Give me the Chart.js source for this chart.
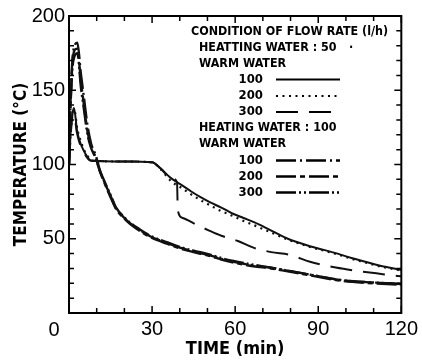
<!DOCTYPE html>
<html>
<head>
<meta charset="utf-8">
<script src="https://cdn.jsdelivr.net/npm/chart.js@4.4.0/dist/chart.umd.min.js"></script>
<style>
  html, body { margin: 0; padding: 0; background: #fff; }
  #chart { display: block; }
</style>
</head>
<body>
<canvas id="chart" width="422" height="362"></canvas>
<script>
// Temperature vs time (min, °C)

// heating water 50 l/h
const hw50ww100Time = [0, 0.7, 1.8, 2.9, 4, 5.4, 6.5, 7.5, 8.5, 20, 30, 33, 36.7, 40, 44, 47.5, 51, 55, 59, 63, 67, 72, 79, 87, 92, 97, 102, 107, 112, 116, 120];
const hw50ww100Temp = [100, 125, 138, 123, 115, 109, 105.5, 103, 102.5, 102, 101.5, 97.5, 91, 87, 82, 78, 74.5, 71, 67, 64, 61, 56.5, 50, 45, 42.5, 40, 37, 34.5, 32, 30.5, 29];

const hw50ww200Time = [0, 0.7, 1.9, 3, 4.2, 5.5, 6.6, 7.6, 8.6, 20, 30, 33, 37, 40, 44, 47.5, 51, 54.5, 59, 63, 67, 72, 79, 87, 92, 97, 102, 107, 112, 116, 120];
const hw50ww200Temp = [100, 124, 137, 124, 116, 109.5, 106, 103.5, 102.5, 102, 101.5, 97, 88.5, 85, 80, 76, 72.5, 69, 65.5, 62, 59, 55, 49.5, 44.5, 42, 39.5, 36.5, 34, 31.5, 30, 28.5];

const hw50ww300Time = [0, 0.7, 1.7, 2.8, 3.9, 5.3, 6.4, 7.4, 8.4, 20, 30, 33, 36.5, 39, 39.3, 41, 46, 50.6, 55, 61, 66.6, 73, 80, 87, 94, 100, 105, 111, 116, 120];
const hw50ww300Temp = [100, 122, 136, 122, 114, 108.5, 105, 103, 102.5, 102, 101.5, 97.5, 91.5, 88, 69, 64, 59.5, 55.5, 52, 48.5, 44, 41, 39, 34.5, 31.5, 29.5, 28, 26.7, 25.5, 24.7];

// heating water 100 l/h
const hw100Time = [0, 0.5, 1.2, 2, 3, 4.3, 5.4, 6.7, 8, 9.7, 11, 12.6, 15, 17, 20, 22, 25, 27, 30, 35.6, 40, 45, 50.6, 55, 59.4, 66.6, 73, 79, 88, 99, 110, 120];
const hw100ww100Temp = [100, 140, 170, 180, 182, 161, 145, 126, 114, 106, 97, 89, 79, 70.5, 64, 60.5, 56.5, 54, 51, 47, 44, 41.5, 39, 36.5, 34.5, 32, 30.5, 28.5, 25.5, 22, 20.5, 19.5];
const hw100ww200Temp = [100, 138, 167, 177, 178, 156, 140, 122, 112, 104.5, 96, 88.5, 78, 70, 63.5, 60, 56, 53.5, 50.5, 46.5, 43.5, 41, 38.5, 36, 34, 31.5, 30, 28, 25, 21.5, 20, 19];
const hw100ww300Temp = [100, 136, 164, 173, 175, 152, 137, 120, 111, 104, 96.5, 89.5, 79.5, 71, 64.5, 61, 57, 54.5, 51.5, 47.5, 44.5, 42, 39.5, 37, 35, 32.5, 30.5, 28.5, 25.5, 22, 20.5, 19.5];

// axis labels
const xTickLabels = [0, 30, 60, 90, 120];
const yTickLabels = [50, 100, 150, 200];
const warmWaterLabels = ['100', '200', '300'];

const toPoints = (xs, ys) => xs.map((x, i) => ({ x: x, y: ys[i] }));

const tickFont = '"Liberation Sans", Arial, sans-serif';
const boldNarrow = '"Liberation Sans Narrow", "DejaVu Sans Condensed", "Liberation Sans", sans-serif';

function series(label, xs, ys, dash, width) {
    return {
        label: label,
        data: toPoints(xs, ys),
        borderColor: '#111',
        borderWidth: width,
        borderDash: dash,
        pointRadius: 0,
        fill: false,
        cubicInterpolationMode: 'monotone'
    };
}

const datasets = [
    series('HW 50 / WW 100', hw50ww100Time, hw50ww100Temp, [], 2),
    series('HW 50 / WW 200', hw50ww200Time, hw50ww200Temp, [2, 4.5], 2.2),
    series('HW 50 / WW 300', hw50ww300Time, hw50ww300Temp, [22, 11], 2),
    series('HW 100 / WW 100', hw100Time, hw100ww100Temp, [20, 4, 2, 4], 2.4),
    series('HW 100 / WW 200', hw100Time, hw100ww200Temp, [20, 4, 5, 4], 2.4),
    series('HW 100 / WW 300', hw100Time, hw100ww300Temp, [20, 3, 2, 3, 2, 3], 2.4)
];

// frame, inward ticks, the shifted "0" and the in-plot legend
const decorations = {
    id: 'decorations',
    afterDraw(chart) {
        const ctx = chart.ctx;
        const a = chart.chartArea;
        const xs = chart.scales.x;
        const ys = chart.scales.y;

        ctx.save();
        ctx.strokeStyle = '#000';
        ctx.lineWidth = 2;
        ctx.setLineDash([]);
        ctx.strokeRect(a.left, a.top, a.right - a.left, a.bottom - a.top);

        ctx.lineWidth = 1.5;
        ctx.beginPath();
        for (let v = 0; v <= 120; v += 10) {
            const px = xs.getPixelForValue(v);
            const len = v % 30 === 0 ? 7 : 5;
            ctx.moveTo(px, a.bottom); ctx.lineTo(px, a.bottom - len);
            ctx.moveTo(px, a.top); ctx.lineTo(px, a.top + len);
        }
        for (let v = 0; v <= 200; v += 10) {
            const py = ys.getPixelForValue(v);
            const len = v % 50 === 0 ? 7 : 5;
            ctx.moveTo(a.left, py); ctx.lineTo(a.left + len, py);
            ctx.moveTo(a.right, py); ctx.lineTo(a.right - len, py);
        }
        ctx.stroke();

        // origin label sits left of the corner in the original
        ctx.fillStyle = '#000';
        ctx.font = '20px ' + tickFont;
        ctx.textAlign = 'center';
        ctx.textBaseline = 'middle';
        ctx.fillText(String(xTickLabels[0]), 54, 330);

        // legend
        ctx.font = 'bold 12.4px ' + boldNarrow;
        ctx.textAlign = 'left';
        ctx.fillText('CONDITION OF FLOW RATE (l/h)', 191, 31.5);
        ctx.fillText('HEATTING WATER : 50', 199, 47.5);
        ctx.fillText('·', 349, 47.5);
        ctx.fillText('WARM WATER', 199, 63.5);
        ctx.fillText('HEATING WATER : 100', 199, 127.5);
        ctx.fillText('WARM WATER', 199, 143.5);

        const rowsY = [79.5, 96, 112, 160.5, 176.5, 192.5];
        ctx.font = 'bold 13px ' + boldNarrow;
        rowsY.forEach((y, i) => {
            ctx.textAlign = 'right';
            ctx.fillText(warmWaterLabels[i % 3], 263, y);
            const ds = chart.data.datasets[i];
            ctx.lineWidth = ds.borderWidth;
            ctx.setLineDash(ds.borderDash);
            ctx.beginPath();
            ctx.moveTo(276, y);
            ctx.lineTo(340, y);
            ctx.stroke();
        });
        ctx.restore();
    }
};

new Chart(document.getElementById('chart'), {
    type: 'line',
    data: { datasets: datasets },
    options: {
        responsive: false,
        animation: false,
        layout: { padding: { left: 0, right: 20, top: 14, bottom: 0 } },
        plugins: {
            legend: { display: false },
            tooltip: { enabled: false }
        },
        scales: {
            x: {
                type: 'linear',
                min: 0,
                max: 120,
                afterFit: (scale) => { scale.height = 49; },
                grid: { display: false, tickLength: 0 },
                border: { display: false },
                ticks: {
                    stepSize: 10,
                    autoSkip: false,
                    maxRotation: 0,
                    padding: 4,
                    color: '#000',
                    font: { family: tickFont, size: 20 },
                    callback: (v) => (v > 0 && xTickLabels.includes(v)) ? String(v) : ''
                },
                title: {
                    display: true,
                    text: 'TIME (min)',
                    color: '#000',
                    font: { family: boldNarrow, size: 18, weight: 'bold' },
                    padding: { top: 0, bottom: 2 }
                }
            },
            y: {
                min: 0,
                max: 200,
                afterFit: (scale) => { scale.width = 69; },
                grid: { display: false, tickLength: 0 },
                border: { display: false },
                ticks: {
                    stepSize: 10,
                    autoSkip: false,
                    padding: 4,
                    color: '#000',
                    font: { family: tickFont, size: 20 },
                    callback: (v) => yTickLabels.includes(v) ? String(v) : ''
                },
                title: {
                    display: true,
                    text: 'TEMPERATURE (°C)',
                    color: '#000',
                    font: { family: boldNarrow, size: 17, weight: 'bold' },
                    padding: { top: 11, bottom: 0 }
                }
            }
        }
    },
    plugins: [decorations]
});
</script>
</body>
</html>
